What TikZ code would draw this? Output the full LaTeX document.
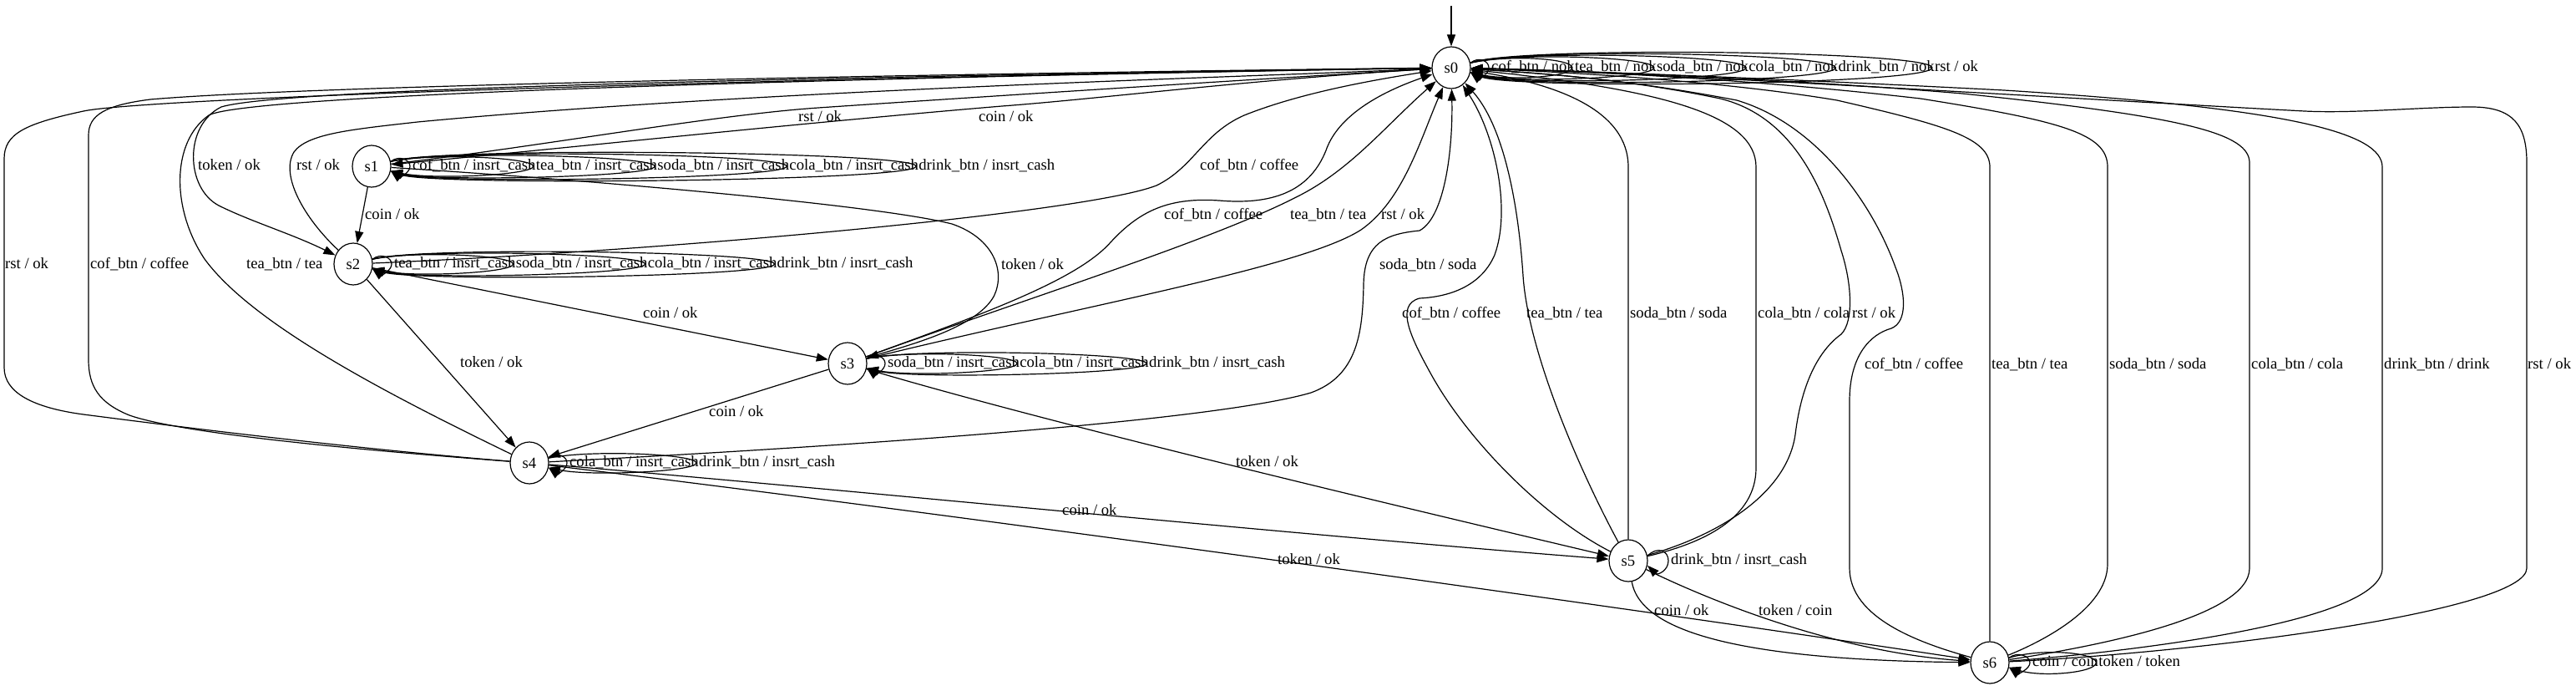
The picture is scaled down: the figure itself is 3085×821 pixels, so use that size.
\documentclass[tikz,border=0pt]{standalone}
\usepackage{fontspec}
\setmainfont{Liberation Serif}
\usetikzlibrary{arrows.meta,shapes.geometric,calc}
\newcommand\lbf{\fontsize{18.67}{22}\selectfont}
\newcommand\drawloop[4]{\draw[tr] (#1.14) .. controls +(#4,-#3) and +(0,-#3) .. (#2) .. controls +(0,#3) and +(#4,#3) .. (#1.-14);}
\begin{document}
\begin{tikzpicture}[x=1pt,y=-1pt,
  st/.style={draw, ellipse, minimum width=46pt, minimum height=50pt, inner sep=0pt, line width=1.2pt, font=\lbf},
  tr/.style={draw, line width=1.2pt, -{Triangle[length=14pt,width=10pt]}},
  lb/.style={anchor=west, inner sep=0pt, text height=13pt, text depth=4pt, font=\lbf}]
\path[fill=white] (0,0) rectangle (3085,821);
\useasboundingbox (0,0) rectangle (3085,821);

% states
\node[st] (s0) at (1738,81) {s0};
\node[st] (s1) at (445,199) {s1};
\node[st] (s2) at (423,316) {s2};
\node[st] (s3) at (1015,435) {s3};
\node[st] (s4) at (634,554) {s4};
\node[st] (s5) at (1950,671) {s5};
\node[st] (s6) at (2383,793) {s6};

% initial arrow
\coordinate (init) at (1738,7);
\draw[tr] (init) -- (s0);

% self-loop labels
\node[lb] (a1) at (1786,81) {cof\_btn / nok};
\node[lb] (a2) at (a1.east) {tea\_btn / nok};
\node[lb] (a3) at (a2.east) {soda\_btn / nok};
\node[lb] (a4) at (a3.east) {cola\_btn / nok};
\node[lb] (a5) at (a4.east) {drink\_btn / nok};
\node[lb] (a6) at (a5.east) {rst / ok};

\node[lb] (b1) at (494,199) {cof\_btn / insrt\_cash};
\node[lb] (b2) at (b1.east) {tea\_btn / insrt\_cash};
\node[lb] (b3) at (b2.east) {soda\_btn / insrt\_cash};
\node[lb] (b4) at (b3.east) {cola\_btn / insrt\_cash};
\node[lb] (b5) at (b4.east) {drink\_btn / insrt\_cash};

\node[lb] (c1) at (472,316) {tea\_btn / insrt\_cash};
\node[lb] (c2) at (c1.east) {soda\_btn / insrt\_cash};
\node[lb] (c3) at (c2.east) {cola\_btn / insrt\_cash};
\node[lb] (c4) at (c3.east) {drink\_btn / insrt\_cash};

\node[lb] (d1) at (1063,435) {soda\_btn / insrt\_cash};
\node[lb] (d2) at (d1.east) {cola\_btn / insrt\_cash};
\node[lb] (d3) at (d2.east) {drink\_btn / insrt\_cash};

\node[lb] (e1) at (682,554) {cola\_btn / insrt\_cash};
\node[lb] (e2) at (e1.east) {drink\_btn / insrt\_cash};

\node[lb] (f1) at (2001,671) {drink\_btn / insrt\_cash};

\node[lb] (g1) at (2434,793) {coin / coin};
\node[lb] (g2) at (g1.east) {token / token};

% self-loops
\drawloop{s0}{$(a1.west)+(-3,0)$}{8}{10}
\drawloop{s0}{$(a2.west)+(-3,0)$}{10.5}{50}
\drawloop{s0}{$(a3.west)+(-3,0)$}{13}{50}
\drawloop{s0}{$(a4.west)+(-3,0)$}{15.5}{50}
\drawloop{s0}{$(a5.west)+(-3,0)$}{18}{50}
\drawloop{s0}{$(a6.west)+(-3,0)$}{20.5}{50}

\drawloop{s1}{$(b1.west)+(-3,0)$}{8}{10}
\drawloop{s1}{$(b2.west)+(-3,0)$}{10.5}{50}
\drawloop{s1}{$(b3.west)+(-3,0)$}{13}{50}
\drawloop{s1}{$(b4.west)+(-3,0)$}{15.5}{50}
\drawloop{s1}{$(b5.west)+(-3,0)$}{18}{50}

\drawloop{s2}{$(c1.west)+(-3,0)$}{8}{10}
\drawloop{s2}{$(c2.west)+(-3,0)$}{10.5}{50}
\drawloop{s2}{$(c3.west)+(-3,0)$}{13}{50}
\drawloop{s2}{$(c4.west)+(-3,0)$}{15.5}{50}

\drawloop{s3}{$(d1.west)+(-3,0)$}{8}{10}
\drawloop{s3}{$(d2.west)+(-3,0)$}{10.5}{50}
\drawloop{s3}{$(d3.west)+(-3,0)$}{13}{50}

\drawloop{s4}{$(e1.west)+(-3,0)$}{8}{10}
\drawloop{s4}{$(e2.west)+(-3,0)$}{10.5}{50}

\drawloop{s5}{$(f1.west)+(-3,0)$}{12}{12}

\drawloop{s6}{$(g1.west)+(-3,0)$}{8}{10}
\drawloop{s6}{$(g2.west)+(-3,0)$}{12}{40}

% s0 <-> s1
\draw[tr] (s0) .. controls (1500,95) and (1320,118) .. (1200,127) .. controls (950,148) and (650,180) .. (s1);
\draw[tr] (s1) .. controls (650,175) and (850,138) .. (980,129) .. controls (1200,114) and (1550,92) .. (s0);
\node[lb] at (1172,141) {coin / ok};
\node[lb] at (956,141) {rst / ok};

% s0 -> s2, s2 -> s0
\draw[tr] (s0) .. controls (1000,92) and (340,105) .. (265,128) .. controls (220,150) and (222,225) .. (262,246) .. controls (300,265) and (350,280) .. (s2);
\node[lb] at (237,199) {token / ok};
\draw[tr] (s2) .. controls (365,262) and (335,210) .. (352,182) .. controls (368,160) and (420,155) .. (500,146) .. controls (900,108) and (1500,92) .. (s0);
\node[lb] at (355,199) {rst / ok};

% s4 -> s0 (left side)
\draw[tr] (s4) .. controls (400,535) and (170,505) .. (100,496) .. controls (40,488) and (5,470) .. (5,440) -- (5,190) .. controls (5,160) and (30,148) .. (100,133) .. controls (160,120) and (700,98) .. (s0);
\node[lb] at (6,317) {rst / ok};
\draw[tr] (s4) .. controls (450,540) and (220,520) .. (155,497) .. controls (118,482) and (106,462) .. (106,430) -- (106,162) .. controls (106,138) and (125,126) .. (180,119) .. controls (400,100) and (1300,86) .. (s0);
\node[lb] at (108,317) {cof\_btn / coffee};
\draw[tr] (s4) .. controls (450,465) and (300,385) .. (245,310) .. controls (205,250) and (205,170) .. (250,138) .. controls (290,115) and (900,95) .. (s0);
\node[lb] at (295,317) {tea\_btn / tea};

% forward edges
\draw[tr] (s1) -- (s2);
\node[lb] at (437,258) {coin / ok};
\draw[tr] (s2) -- (s3);
\node[lb] at (770,376) {coin / ok};
\draw[tr] (s2) -- (s4);
\node[lb] at (551,435) {token / ok};
\draw[tr] (s3) -- (s4);
\node[lb] at (849,494) {coin / ok};
\draw[tr] (s1) .. controls (700,215) and (1050,245) .. (1140,268) .. controls (1190,285) and (1205,325) .. (1190,355) .. controls (1170,390) and (1100,410) .. (s3);
\node[lb] at (1199,318) {token / ok};
\draw[tr] (s3) .. controls (1250,505) and (1650,600) .. (s5);
\node[lb] at (1480,554) {token / ok};
\draw[tr] (s4) .. controls (950,580) and (1550,640) .. (s5);
\node[lb] at (1272,612) {coin / ok};
\draw[tr] (s4) .. controls (1100,610) and (1900,720) .. (s6);
\node[lb] at (1530,671) {token / ok};
\draw[tr] (s5) .. controls (1965,760) and (2100,790) .. (s6);
\node[lb] at (1981,732) {coin / ok};
\draw[tr] (s5) .. controls (2050,720) and (2200,780) .. (s6);
\node[lb] at (2106,732) {token / coin};

% s2 -> s0 coffee
\draw[tr] (s2) .. controls (800,300) and (1300,255) .. (1385,222) .. controls (1430,200) and (1440,160) .. (1490,138) .. controls (1560,110) and (1650,95) .. (s0);
\node[lb] at (1437,199) {cof\_btn / coffee};

% s3 -> s0
\draw[tr] (s3) .. controls (1180,375) and (1290,335) .. (1330,290) .. controls (1365,252) and (1400,236) .. (1460,240) .. controls (1530,246) and (1570,225) .. (1588,180) .. controls (1600,145) and (1640,115) .. (s0);
\node[lb] at (1394,258) {cof\_btn / coffee};
\draw[tr] (s3) .. controls (1250,350) and (1460,285) .. (1560,232) .. controls (1620,200) and (1660,150) .. (s0);
\node[lb] at (1545,258) {tea\_btn / tea};
\draw[tr] (s3) .. controls (1300,365) and (1560,320) .. (1630,275) .. controls (1680,240) and (1700,170) .. (s0);
\node[lb] at (1654,258) {rst / ok};

% s4 -> s0 soda
\draw[tr] (s4) .. controls (1000,535) and (1450,505) .. (1570,470) .. controls (1625,450) and (1632,400) .. (1633,340) .. controls (1634,290) and (1660,280) .. (1700,276) .. controls (1730,260) and (1740,180) .. (s0);
\node[lb] at (1652,318) {soda\_btn / soda};

% s5 -> s0
\draw[tr] (s5) .. controls (1850,620) and (1760,530) .. (1715,450) .. controls (1690,405) and (1670,365) .. (1700,357) .. controls (1740,355) and (1775,340) .. (1790,305) .. controls (1810,250) and (1790,160) .. (s0);
\node[lb] at (1679,376) {cof\_btn / coffee};
\draw[tr] (s5) .. controls (1890,560) and (1830,420) .. (1824,330) .. controls (1818,240) and (1800,150) .. (s0);
\node[lb] at (1828,376) {tea\_btn / tea};
\draw[tr] (s5) -- (1950,200) .. controls (1950,130) and (1860,100) .. (s0);
\node[lb] at (1952,376) {soda\_btn / soda};
\draw[tr] (s5) .. controls (2040,650) and (2103,620) .. (2103,560) -- (2103,200) .. controls (2103,140) and (2000,108) .. (s0);
\node[lb] at (2105,376) {cola\_btn / cola};
\draw[tr] (s5) .. controls (2060,640) and (2140,590) .. (2150,520) .. controls (2158,455) and (2180,418) .. (2205,400) .. controls (2220,385) and (2218,340) .. (2205,300) .. controls (2185,230) and (2150,140) .. (2060,118) .. controls (1950,95) and (1850,88) .. (s0);
\node[lb] at (2218,376) {rst / ok};

% s6 -> s0
\draw[tr] (s6) .. controls (2300,770) and (2215,740) .. (2215,680) -- (2215,480) .. controls (2215,425) and (2240,400) .. (2265,393) .. controls (2285,385) and (2282,350) .. (2270,320) .. controls (2245,250) and (2180,150) .. (2080,120) .. controls (1950,95) and (1850,88) .. (s0);
\node[lb] at (2233,437) {cof\_btn / coffee};
\draw[tr] (s6) -- (2383,200) .. controls (2383,165) and (2330,150) .. (2200,120) .. controls (2050,95) and (1850,85) .. (s0);
\node[lb] at (2385,437) {tea\_btn / tea};
\draw[tr] (s6) .. controls (2440,770) and (2524,730) .. (2524,675) -- (2524,200) .. controls (2524,160) and (2470,145) .. (2300,118) .. controls (2100,95) and (1900,85) .. (s0);
\node[lb] at (2526,437) {soda\_btn / soda};
\draw[tr] (s6) .. controls (2500,775) and (2694,740) .. (2694,680) -- (2694,195) .. controls (2694,160) and (2620,140) .. (2350,112) .. controls (2150,95) and (1900,85) .. (s0);
\node[lb] at (2696,437) {cola\_btn / cola};
\draw[tr] (s6) .. controls (2550,780) and (2853,745) .. (2853,680) -- (2853,200) .. controls (2853,160) and (2750,130) .. (2400,108) .. controls (2150,95) and (1900,85) .. (s0);
\node[lb] at (2855,437) {drink\_btn / drink};
\draw[tr] (s6) .. controls (2650,780) and (3026,730) .. (3026,680) -- (3026,195) .. controls (3026,150) and (3010,128) .. (2960,128) .. controls (2900,128) and (2820,136) .. (2760,133) .. controls (2550,122) and (2000,88) .. (s0);
\node[lb] at (3027,437) {rst / ok};
\end{tikzpicture}
\end{document}
